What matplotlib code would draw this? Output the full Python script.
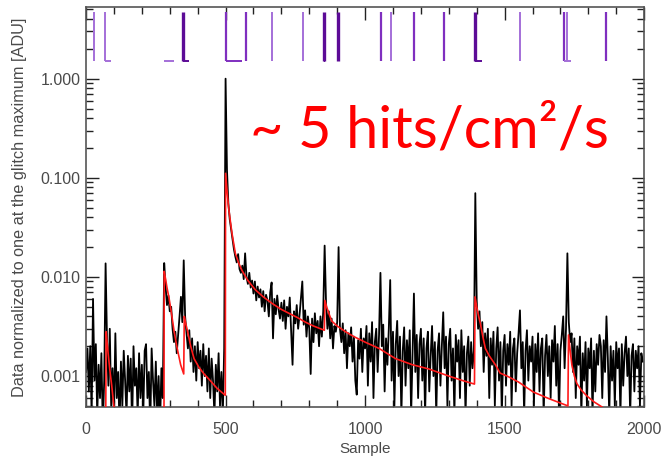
import matplotlib
matplotlib.use("Agg")
import matplotlib.pyplot as plt
import numpy as np
from matplotlib.ticker import FixedLocator, LogLocator, MultipleLocator, NullFormatter

# black trace: one value every 5 samples
samples = np.arange(0, 2000, 5)
signal = [
    0.0011, 0.0019, 0.0007, 0.0020, 0.0004, 0.0060, 0.0009, 0.0021, 0.0004, 0.0013,
    0.0006, 0.0017, 0.0003, 0.0009, 0.0137, 0.0024, 0.0008, 0.0030, 0.0005, 0.0012,
    0.0004, 0.0027, 0.0006, 0.0011, 0.0003, 0.0014, 0.0005, 0.0018, 0.0009, 0.0004,
    0.0016, 0.0007, 0.0015, 0.0003, 0.0020, 0.0008, 0.0012, 0.0004, 0.0017, 0.0006,
    0.0013, 0.0004, 0.0018, 0.0021, 0.0006, 0.0011, 0.0003, 0.0019, 0.0009, 0.0005,
    0.0014, 0.0004, 0.0010, 0.0003, 0.0012, 0.0006, 0.0138, 0.0080, 0.0052, 0.0065,
    0.0045, 0.0050, 0.0030, 0.0022, 0.0028, 0.0017, 0.0026, 0.0040, 0.0063, 0.0035,
    0.0147, 0.0040, 0.0027, 0.0019, 0.0029, 0.0014, 0.0024, 0.0011, 0.0020, 0.0009,
    0.0022, 0.0012, 0.0018, 0.0008, 0.0021, 0.0010, 0.0016, 0.0007, 0.0019, 0.0006,
    0.0015, 0.0009, 0.0004, 0.0013, 0.0007, 0.0017, 0.0005, 0.0011, 0.0004, 0.0019,
    1.0000, 0.1200, 0.0550, 0.0380, 0.0300, 0.0240, 0.0190, 0.0160, 0.0140, 0.0170,
    0.0120, 0.0110, 0.0130, 0.0095, 0.0173, 0.0100, 0.0085, 0.0110, 0.0078, 0.0092,
    0.0068, 0.0090, 0.0058, 0.0080, 0.0062, 0.0075, 0.0050, 0.0072, 0.0045, 0.0066,
    0.0058, 0.0040, 0.0070, 0.0088, 0.0024, 0.0060, 0.0042, 0.0065, 0.0047, 0.0038,
    0.0055, 0.0036, 0.0058, 0.0030, 0.0050, 0.0040, 0.0062, 0.0028, 0.0013, 0.0045,
    0.0034, 0.0052, 0.0030, 0.0041, 0.0060, 0.0090, 0.0033, 0.0046, 0.0025, 0.0040,
    0.0030, 0.00105, 0.0038, 0.0022, 0.0043, 0.0027, 0.0036, 0.0020, 0.0040, 0.0025,
    0.0045, 0.0207, 0.0055, 0.0030, 0.0045, 0.0024, 0.0038, 0.0019, 0.0032, 0.0028,
    0.0035, 0.0200, 0.0030, 0.0022, 0.0034, 0.0017, 0.0029, 0.0012, 0.0027, 0.0020,
    0.0031, 0.0014, 0.0025, 0.0009, 0.00065, 0.0023, 0.0015, 0.0030, 0.0011, 0.0024,
    0.0019, 0.0032, 0.0008, 0.0027, 0.0014, 0.0035, 0.0006, 0.0022, 0.0030, 0.0011,
    0.0026, 0.0110, 0.0020, 0.0033, 0.0007, 0.0024, 0.0013, 0.0030, 0.0093, 0.0009,
    0.0028, 0.0005, 0.0021, 0.0036, 0.0010, 0.0025, 0.0004, 0.0018, 0.0031, 0.0008,
    0.0023, 0.0012, 0.0029, 0.0004, 0.0017, 0.0068, 0.0011, 0.0026, 0.0006, 0.0021,
    0.0030, 0.0009, 0.0024, 0.0004, 0.0019, 0.0028, 0.0007, 0.0016, 0.0032, 0.0010,
    0.0022, 0.0004, 0.0018, 0.0027, 0.0008, 0.0020, 0.0044, 0.0012, 0.0025, 0.0005,
    0.0021, 0.0030, 0.0009, 0.0019, 0.0004, 0.0026, 0.0014, 0.0023, 0.0006, 0.0029,
    0.0011, 0.0020, 0.0004, 0.0017, 0.0025, 0.0008, 0.0022, 0.0012, 0.0018, 0.0700,
    0.0058, 0.0030, 0.0045, 0.0020, 0.0035, 0.0011, 0.0027, 0.0016, 0.0030, 0.0006,
    0.0024, 0.0013, 0.0028, 0.0005, 0.0019, 0.0031, 0.0009, 0.0022, 0.0004, 0.0018,
    0.0026, 0.0008, 0.0021, 0.0013, 0.0028, 0.0005, 0.0019, 0.0024, 0.0007, 0.0017,
    0.0027, 0.0046, 0.0012, 0.0022, 0.0004, 0.0018, 0.0029, 0.0009, 0.0020, 0.0014,
    0.0025, 0.0005, 0.0021, 0.0011, 0.0027, 0.0007, 0.0019, 0.0024, 0.0004, 0.0016,
    0.0026, 0.0010, 0.0020, 0.0006, 0.0023, 0.0014, 0.0032, 0.0008, 0.0021, 0.0004,
    0.0018, 0.0026, 0.0040, 0.0012, 0.0030, 0.0173, 0.0035, 0.0022, 0.0027, 0.0011,
    0.0024, 0.0006, 0.0020, 0.0013, 0.0025, 0.0004, 0.0017, 0.0009, 0.0022, 0.0005,
    0.0019, 0.0012, 0.0024, 0.0004, 0.0018, 0.0007, 0.0021, 0.0013, 0.0026, 0.0020,
    0.0006, 0.0023, 0.0011, 0.0040, 0.0015, 0.0004, 0.0020, 0.0009, 0.0018, 0.0005,
    0.0022, 0.0012, 0.0019, 0.0004, 0.0021, 0.0008, 0.0017, 0.0025, 0.0010, 0.0019,
    0.0004, 0.0016, 0.0021, 0.0007, 0.0018, 0.0012, 0.0020, 0.0005, 0.0017, 0.0014,
]

# red glitch model (values below the axis floor just leave the frame)
model_x = [
    0, 70, 72, 76, 80, 86, 92, 98, 104, 279,
    280, 285, 290, 297, 305, 315, 325, 339, 350,
    352, 357, 363, 375, 387, 405, 423, 445, 470, 499,
    500, 506, 512, 518, 523, 535, 547, 559, 580, 607, 635, 667, 700, 727, 757, 786, 815, 854,
    856, 862, 870, 880, 900, 930, 960, 1000, 1050, 1109, 1170, 1228, 1300, 1350, 1392,
    1394, 1400, 1407, 1413, 1422, 1431, 1445, 1467, 1484, 1509, 1550, 1603, 1660, 1727,
    1729, 1735, 1741, 1750, 1759, 1775, 1795, 1820, 1848, 1870,
]
model_y = [
    0.0002, 0.0002, 0.0028, 0.0021, 0.0016, 0.0011, 0.0008, 0.00055, 0.0004, 0.0001,
    0.0114, 0.0095, 0.0078, 0.0062, 0.0045, 0.0029, 0.0020, 0.0013, 0.00105,
    0.0040, 0.0034, 0.0029, 0.0020, 0.0015, 0.00122, 0.00105, 0.0009, 0.00075, 0.00064,
    0.111, 0.070, 0.047, 0.035, 0.0275, 0.0173, 0.0138, 0.0116, 0.0092, 0.0074, 0.0063,
    0.0054, 0.0047, 0.0043, 0.0039, 0.0035, 0.0032, 0.0029,
    0.0058, 0.0050, 0.0043, 0.0036, 0.0032, 0.0028, 0.0025, 0.0022, 0.0019, 0.0015,
    0.0013, 0.00118, 0.0010, 0.0009, 0.00083,
    0.0063, 0.0050, 0.0040, 0.0034, 0.0025, 0.0019, 0.0016, 0.0013, 0.00107, 0.0010,
    0.00087, 0.00069, 0.00059, 0.0005,
    0.0026, 0.0018, 0.0013, 0.0010, 0.00084, 0.00072, 0.00063, 0.00055, 0.00049, 0.00044,
]

# hit markers in the strip above 1.0
hit_x = [30, 68, 349, 500, 574, 667, 777, 851, 902, 1056, 1092, 1176, 1282, 1393, 1554, 1712, 1723, 1863]
hit_shade = ["light", "light", "dark", "mid", "mid", "light", "light", "dark", "dark",
             "mid", "light", "mid", "mid", "dark", "light", "mid", "light", "mid"]
foot_start = [68, 279, 349, 500, 851, 1393, 1712]
foot_end = [89, 314, 368, 560, 858, 1420, 1738]
foot_shade = ["light", "light", "dark", "mid", "dark", "dark", "light"]

shades = {"light": "#a46fd8", "mid": "#7f2fbf", "dark": "#5c0b96"}
widths = {"light": 1.4, "mid": 1.6, "dark": 2.4}
hit_low, hit_high = 1.52, 4.7

x_ticks = [0, 500, 1000, 1500, 2000]
y_ticks = [0.001, 0.01, 0.1, 1.0]
y_tick_labels = ["0.001", "0.010", "0.100", "1.000"]

plt.rcParams["font.family"] = ["Liberation Sans", "DejaVu Sans"]
gray = "#4a4a4a"

fig = plt.figure(figsize=(6.62, 4.59), dpi=100)
ax = fig.add_axes([0.130, 0.113, 0.843, 0.872])

ax.plot(samples, signal, color="black", lw=1.3, zorder=2)
ax.plot(model_x, model_y, color="#ff1a1a", lw=1.2, zorder=3)

for x, s in zip(hit_x, hit_shade):
    ax.plot([x, x], [hit_low, hit_high], color=shades[s], lw=widths[s], solid_capstyle="butt")
for x0, x1, s in zip(foot_start, foot_end, foot_shade):
    ax.plot([x0, x1], [hit_low, hit_low], color=shades[s], lw=1.4, solid_capstyle="butt")

ax.set_yscale("log")
ax.set_xlim(0, 2000)
ax.set_ylim(0.000486, 5.3)

ax.xaxis.set_major_locator(FixedLocator(x_ticks))
ax.xaxis.set_minor_locator(MultipleLocator(100))
ax.set_xticklabels([str(t) for t in x_ticks])
ax.yaxis.set_major_locator(FixedLocator(y_ticks))
ax.set_yticklabels(y_tick_labels)
ax.yaxis.set_minor_locator(LogLocator(base=10, subs=np.arange(2, 10)))
ax.yaxis.set_minor_formatter(NullFormatter())

ax.tick_params(which="both", direction="in", top=True, right=True, colors="#222222",
               labelcolor=gray, labelsize=11.5, width=1.0)
ax.tick_params(which="major", length=9)
ax.tick_params(which="minor", length=5)
ax.tick_params(axis="y", which="major", pad=4)
ax.tick_params(axis="x", which="major", pad=11)
for sp in ax.spines.values():
    sp.set_color("#555555")
    sp.set_linewidth(1.2)

ax.set_xlabel("Sample", color=gray, fontsize=11, labelpad=3)
ax.set_ylabel("Data normalized to one at the glitch maximum [ADU]", color=gray, fontsize=11.7,
              labelpad=10)

fig.text(0.377, 0.678, "~ 5 hits/cm²/s", color="#ff0000", fontsize=41.5,
         family=["Lato", "DejaVu Sans"], ha="left", va="baseline")

fig.savefig("out.png", dpi=100)
